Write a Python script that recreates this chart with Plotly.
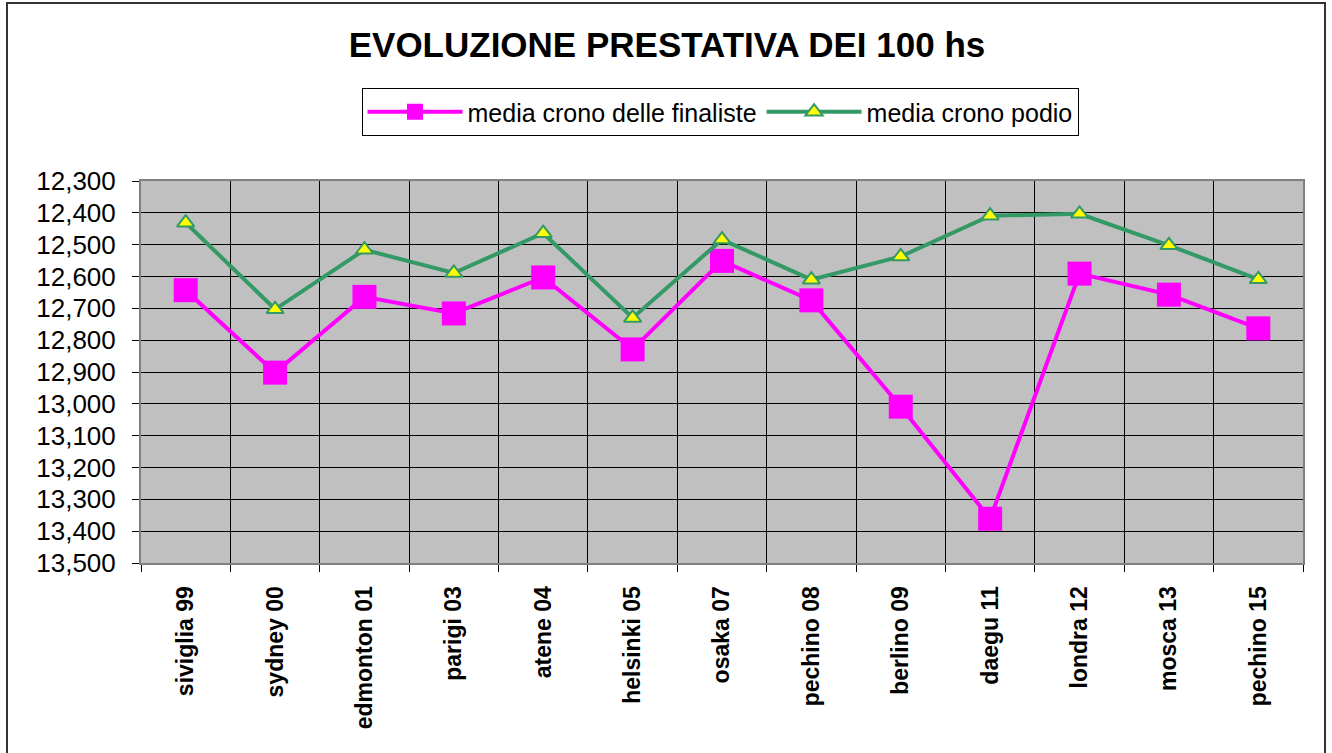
import plotly.graph_objects as go

categories = ["siviglia 99", "sydney 00", "edmonton 01", "parigi 03", "atene 04",
              "helsinki 05", "osaka 07", "pechino 08", "berlino 09", "daegu 11",
              "londra 12", "mosca 13", "pechino 15"]
finaliste = [12.643, 12.902, 12.664, 12.716, 12.603, 12.829, 12.551, 12.675,
             13.009, 13.361, 12.591, 12.657, 12.763]
podio = [12.431, 12.703, 12.516, 12.589, 12.464, 12.730, 12.484, 12.610,
         12.537, 12.409, 12.403, 12.502, 12.609]
y_ticks = [12.3, 12.4, 12.5, 12.6, 12.7, 12.8, 12.9, 13.0, 13.1, 13.2, 13.3, 13.4, 13.5]

FONT = "Liberation Sans, Arial, sans-serif"
W, H = 1332, 753
L, R, T, B = 141, 29, 181, 190
pw, ph = W - L - R, H - T - B

fig = go.Figure()
fig.add_trace(go.Scatter(
    x=categories, y=finaliste, name="media crono delle finaliste",
    mode="lines+markers",
    line=dict(color="#FF00FF", width=4),
    marker=dict(symbol="square", size=24, color="#FF00FF",
                line=dict(color="#FF00FF", width=0)),
))
fig.add_trace(go.Scatter(
    x=categories, y=podio, name="media crono podio",
    mode="lines+markers",
    line=dict(color="#339966", width=4),
    marker=dict(symbol="triangle-up", size=15, color="#FFFF00",
                line=dict(color="#339966", width=2)),
))

def px_x(p):
    return (p - L) / pw

def px_y(p):
    return (H - B - p) / ph

fig.update_layout(
    width=W, height=H,
    margin=dict(l=L, r=R, t=T, b=B),
    paper_bgcolor="white",
    plot_bgcolor="#C0C0C0",
    separators=",.",
    font=dict(family=FONT, color="black"),
    title=dict(text="<b>EVOLUZIONE PRESTATIVA DEI 100 hs</b>",
               x=px_x(667), xref="paper", xanchor="center",
               y=1 - 45 / H, yref="container", yanchor="middle",
               font=dict(size=35, family=FONT, color="black")),
    legend=dict(orientation="h", x=px_x(720), xanchor="center",
                y=px_y(88), yanchor="top",
                bgcolor="white", bordercolor="black", borderwidth=1,
                font=dict(size=25, family=FONT, color="black"),
                itemwidth=95),
    showlegend=True,
    xaxis=dict(type="category", tickson="boundaries",
               showgrid=True, gridcolor="black", gridwidth=1,
               ticks="outside", ticklen=7, tickcolor="black",
               tickangle=-90, ticklabelstandoff=12,
               tickfont=dict(size=23, family=FONT, color="black", weight="bold"),
               showline=True, linecolor="#808080", linewidth=2, mirror=True,
               range=[-0.5, len(categories) - 0.5]),
    yaxis=dict(range=[13.5, 12.3], tickvals=y_ticks, tickformat=".3f",
               showgrid=True, gridcolor="black", gridwidth=1,
               ticks="outside", ticklen=7, tickcolor="black",
               tickfont=dict(size=26, family=FONT, color="black"),
               ticklabelstandoff=11,
               showline=True, linecolor="#808080", linewidth=2, mirror=True,
               zeroline=False),
    shapes=[dict(type="rect", xref="paper", yref="paper",
                 x0=px_x(7), x1=px_x(1325), y0=px_y(3), y1=px_y(780),
                 line=dict(color="#333333", width=2), layer="below")],
)

fig.write_html("out.html",
               config={"displayModeBar": False},
               post_script="document.body.style.margin='0';document.body.style.overflow='hidden';")
